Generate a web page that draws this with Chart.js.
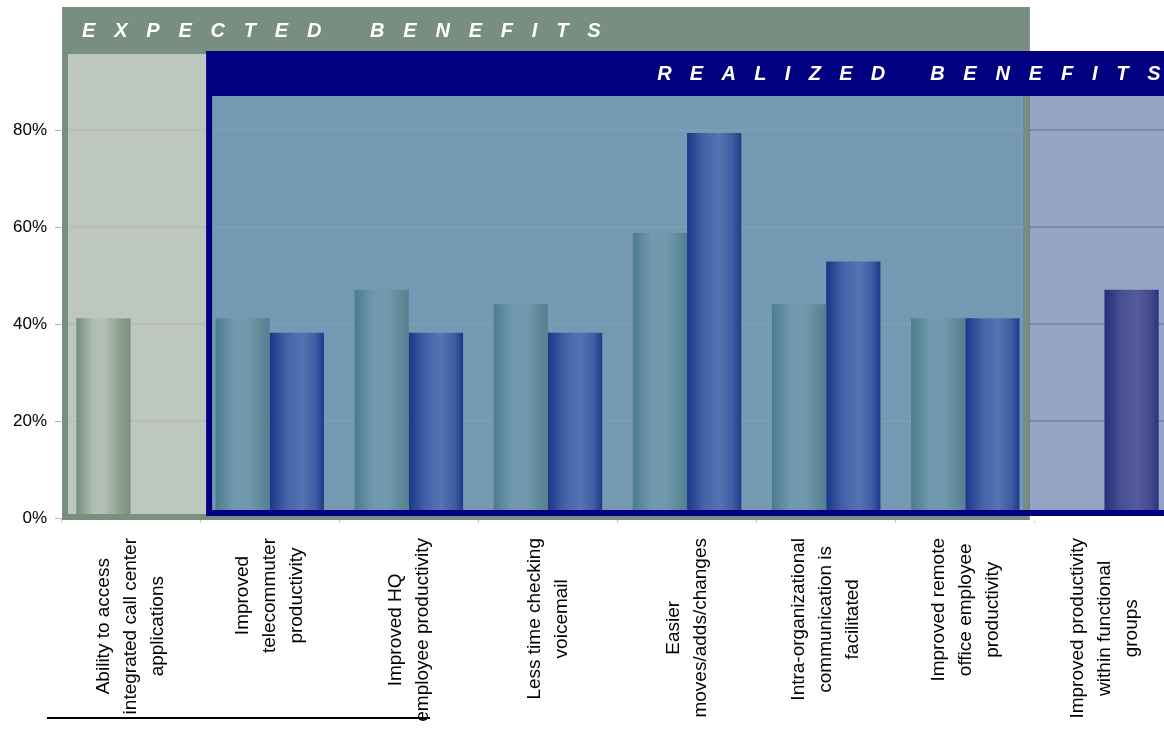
<!DOCTYPE html>
<html>
<head>
    <title>Expected vs Realized Benefits</title>
    <script src="https://cdn.jsdelivr.net/npm/chart.js"></script>
    <style>
        html, body { margin: 0; padding: 0; background: #fff; overflow: hidden; }
        #wrap { width: 1174px; height: 731px; }
    </style>
</head>
<body>
    <div id="wrap"><canvas id="benefitsChart" width="1174" height="731"></canvas></div>
    <script>
        // chart data
        const categories = [
            ['Ability to access', 'integrated call center', 'applications'],
            ['Improved', 'telecommuter', 'productivity'],
            ['Improved HQ', 'employee productivity'],
            ['Less time checking', 'voicemail'],
            ['Easier', 'moves/adds/changes'],
            ['Intra-organizational', 'communication is', 'facilitated'],
            ['Improved remote', 'office employee', 'productivity'],
            ['Improved productivity', 'within functional', 'groups']
        ];
        const expectedValues = [41.2, 41.2, 47.1, 44.1, 58.8, 44.1, 41.2, null];
        const realizedValues = [null, 38.2, 38.2, 38.2, 79.4, 52.9, 41.2, 47.1];
        const yTicks = [0, 20, 40, 60, 80];
        const expectedTitle = ['EXPECTED', 'BENEFITS'];
        const realizedTitle = ['REALIZED', 'BENEFITS'];

        const FONT = '"Liberation Sans", Arial, sans-serif';
        const CAT_PCT = 0.78;
        const GREEN = '#778e80';
        const NAVY = '#000080';

        // where the two overlay boxes sit, taken from the chart area and category edges
        function panels(chart) {
            const { left, top, right, bottom } = chart.chartArea;
            const x = chart.scales.x;
            const edge = k => x.getPixelForValue(k - 0.5);
            return {
                expL: left + 1, expT: top, expR: edge(7) - 5, expB: bottom + 2, expHead: top + 47,
                realL: edge(1) + 6, realT: top + 44, realR: right, realB: bottom - 2, realHead: top + 89,
                bw: 6
            };
        }

        const gradientStops = {
            expectedLight: [[0, '#768c7c'], [0.3, '#aebcb1'], [0.5, '#b3c0b6'], [0.8, '#8ea192'], [1, '#798f7f']],
            expected: [[0, '#4c7c8d'], [0.35, '#7198ae'], [0.6, '#7399ae'], [0.88, '#5c8797'], [1, '#547f90']],
            realized: [[0, '#1c3589'], [0.3, '#4361a8'], [0.6, '#5673b3'], [0.85, '#3f5ba3'], [1, '#1f398b']],
            realizedLavender: [[0, '#252e77'], [0.3, '#474f93'], [0.6, '#565d9d'], [0.85, '#434a8e'], [1, '#29327e']]
        };

        function barFill(context) {
            const chart = context.chart;
            const x = chart.scales.x;
            const i = context.dataIndex;
            if (!x || !chart.chartArea || i === undefined) return '#6f8fa8';
            const step = x.getPixelForValue(1) - x.getPixelForValue(0);
            const w = step * CAT_PCT / 2;
            const c = x.getPixelForValue(i);
            const left = context.datasetIndex === 0 ? c - w : c;
            const p = panels(chart);
            let key;
            if (context.datasetIndex === 0) {
                key = left < p.realL ? 'expectedLight' : 'expected';
            } else {
                key = left > p.expR ? 'realizedLavender' : 'realized';
            }
            const g = chart.ctx.createLinearGradient(left, 0, left + w, 0);
            gradientStops[key].forEach(([s, col]) => g.addColorStop(s, col));
            return g;
        }

        function spacedText(ctx, text, x, y, spacing) {
            let pos = x;
            for (const ch of text) {
                ctx.fillText(ch, pos, y);
                pos += ctx.measureText(ch).width + spacing;
            }
        }

        const benefitPanels = {
            id: 'benefitPanels',
            beforeDatasetsDraw(chart) {
                const ctx = chart.ctx;
                const p = panels(chart);
                const yScale = chart.scales.y;
                ctx.save();
                // expected box
                ctx.fillStyle = GREEN;
                ctx.fillRect(p.expL, p.expT, p.expR - p.expL, p.expB - p.expT);
                ctx.fillStyle = '#bdc7bf';
                ctx.fillRect(p.expL + p.bw, p.expHead, p.expR - p.expL - 2 * p.bw, p.expB - p.bw - p.expHead);
                // realized box
                ctx.fillStyle = NAVY;
                ctx.fillRect(p.realL, p.realT, p.realR - p.realL, p.realB - p.realT);
                ctx.fillStyle = '#7699b3';
                ctx.fillRect(p.realL + p.bw, p.realHead, p.expR - p.bw - p.realL - p.bw, p.realB - p.bw - p.realHead);
                ctx.fillStyle = GREEN;
                ctx.fillRect(p.expR - p.bw, p.realHead, p.bw, p.realB - p.bw - p.realHead);
                ctx.fillStyle = '#95a5c3';
                ctx.fillRect(p.expR, p.realHead, p.realR - p.expR, p.realB - p.bw - p.realHead);

                // faint gridlines through the panels
                yTicks.filter(v => v > 0).forEach(v => {
                    const y = Math.round(yScale.getPixelForValue(v));
                    ctx.fillStyle = 'rgba(170,170,170,0.3)';
                    ctx.fillRect(p.expL + p.bw, y - 1, p.realL - p.expL - p.bw, 2);
                    ctx.fillStyle = 'rgba(140,165,185,0.35)';
                    ctx.fillRect(p.realL + p.bw, y - 1, p.expR - p.realL - 2 * p.bw, 2);
                    ctx.fillStyle = '#7a8aa9';
                    ctx.fillRect(p.expR, y - 1, p.realR - p.expR, 2);
                });

                // header titles
                ctx.fillStyle = '#ffffff';
                ctx.font = 'italic bold 20px ' + FONT;
                ctx.textBaseline = 'alphabetic';
                ctx.textAlign = 'left';
                spacedText(ctx, expectedTitle[0], p.expL + 20, p.expT + 30, 18.8);
                spacedText(ctx, expectedTitle[1], p.expL + 308, p.expT + 30, 18.8);
                spacedText(ctx, realizedTitle[0], p.realL + 451, p.realT + 29, 18.3);
                spacedText(ctx, realizedTitle[1], p.realL + 724, p.realT + 29, 18.8);
                ctx.restore();
            },
            afterDatasetsDraw(chart) {
                const ctx = chart.ctx;
                const p = panels(chart);
                ctx.save();
                ctx.fillStyle = GREEN;
                ctx.fillRect(p.expL, p.expB - p.bw, p.expR - p.expL, p.bw);
                ctx.fillStyle = '#ffffff';
                ctx.fillRect(p.expR, p.realB, p.realR - p.expR, p.expB - p.realB + 1);
                ctx.fillStyle = NAVY;
                ctx.fillRect(p.realL, p.realB - p.bw, p.realR - p.realL, p.bw);
                ctx.restore();
            },
            afterDraw(chart) {
                const ctx = chart.ctx;
                const x = chart.scales.x;
                const labelTop = chart.chartArea.bottom + 20;
                const pitch = 27;
                ctx.save();
                ctx.fillStyle = '#000000';
                ctx.font = '19px ' + FONT;
                ctx.textAlign = 'center';
                ctx.textBaseline = 'middle';
                categories.forEach((lines, i) => {
                    const cx = x.getPixelForValue(i);
                    const maxW = Math.max(...lines.map(l => ctx.measureText(l).width));
                    ctx.save();
                    ctx.translate(cx, labelTop + maxW / 2);
                    ctx.rotate(-Math.PI / 2);
                    lines.forEach((l, j) => ctx.fillText(l, 0, (j - (lines.length - 1) / 2) * pitch));
                    ctx.restore();
                });
                // stray rule at the bottom left
                ctx.fillRect(47, 717, 383, 2);
                ctx.restore();
            }
        };

        const ctx = document.getElementById('benefitsChart').getContext('2d');
        new Chart(ctx, {
            type: 'bar',
            data: {
                labels: categories,
                datasets: [{
                    label: 'Expected Benefits',
                    data: expectedValues,
                    backgroundColor: barFill,
                    borderWidth: 0,
                    categoryPercentage: CAT_PCT,
                    barPercentage: 1
                }, {
                    label: 'Realized Benefits',
                    data: realizedValues,
                    backgroundColor: barFill,
                    borderWidth: 0,
                    categoryPercentage: CAT_PCT,
                    barPercentage: 1
                }]
            },
            options: {
                responsive: false,
                animation: false,
                layout: { padding: { top: 7, left: 0, right: 0, bottom: 0 } },
                plugins: {
                    legend: { display: false },
                    tooltip: { enabled: false }
                },
                scales: {
                    x: {
                        offset: true,
                        afterFit: s => { s.height = 213; s.paddingLeft = 0; s.paddingRight = 0; },
                        ticks: { display: false },
                        grid: { drawOnChartArea: false, tickLength: 5, tickColor: '#c8c8c8', offset: true },
                        border: { display: false }
                    },
                    y: {
                        min: 0,
                        max: 105.4,
                        afterBuildTicks: s => { s.ticks = yTicks.map(v => ({ value: v })); },
                        afterFit: s => { s.width = 61; s.paddingTop = 0; s.paddingBottom = 0; },
                        ticks: {
                            callback: v => v + '%',
                            font: { size: 17, family: FONT },
                            color: '#000000',
                            padding: 8
                        },
                        grid: { drawOnChartArea: false, tickLength: 6, tickColor: '#b0b0b0' },
                        border: { display: false }
                    }
                }
            },
            plugins: [benefitPanels]
        });
    </script>
</body>
</html>
